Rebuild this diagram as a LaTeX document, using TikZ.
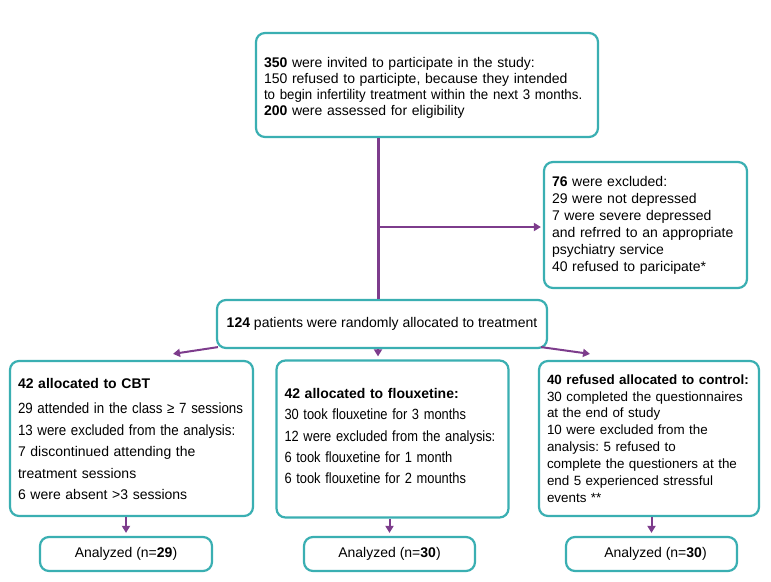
\documentclass[tikz,border=0pt]{standalone}
\usepackage{fontspec}
\setmainfont{Liberation Sans}
\newfontfamily\narrowfont{Liberation Sans}[FakeStretch=0.9]
\newfontfamily\slimfont{Liberation Sans}[FakeStretch=0.87]
\newfontfamily\semifont{Liberation Sans}[FakeStretch=0.95]
\usetikzlibrary{arrows.meta,calc}
\definecolor{tealline}{RGB}{58,175,178}
\definecolor{purparr}{RGB}{125,60,140}
\frenchspacing
\tikzset{
  box/.style   = {rectangle, draw=tealline, rounded corners=9pt,
                  line width=2.2pt, inner xsep=8pt, inner ysep=0pt,
                  align=left, fill=white,
                  font=\fontsize{14}{16}\selectfont},
  res/.style   = {box, align=center, minimum width=171pt,
                  minimum height=34pt},
  arr/.style   = {-{Triangle[length=7pt,width=8pt]}, draw=purparr,
                  line width=2pt},
  trunk/.style = {draw=purparr, line width=3pt}
}
\newcommand{\nline}[1]{{\narrowfont\fontsize{14.8}{16}\selectfont #1}}
\newcommand{\sline}[1]{{\slimfont\fontsize{14.8}{16}\selectfont #1}}

\begin{document}
\begin{tikzpicture}[x=1pt,y=-1pt]
  \useasboundingbox (0,0) rectangle (771,581);
  % enrolment
  \node[box,text width=326pt,minimum height=104pt] (invit) at (427,85)
    {\rule{0pt}{16pt}\textbf{350} were invited to participate in the study:\\
     150 refused to participte, because they intended\\
     {\semifont to begin infertility treatment within the next 3 months.}\\
     \textbf{200} were assessed for eligibility};
  \node[box,text width=187pt,minimum height=126pt,
        font=\fontsize{14}{17}\selectfont] (excl) at (645.5,225)
    {\textbf{76} were excluded:\\
     29 were not depressed\\
     7 were severe depressed\\
     and refrred to an appropriate\\
     psychiatry service\\
     40 refused to paricipate*};
  \node[box,align=center,minimum width=330pt,minimum height=48pt] (alloc) at (382,324)
    {\textbf{124} patients were randomly allocated to treatment};
  % groups
  \node[box,text width=227pt,minimum height=155pt] (cbt) at (131.5,438.5)
    {\textbf{42 allocated to CBT}\\[9pt]
     \nline{29 attended in the class ≥ 7 sessions}\\[6pt]
     \nline{13 were excluded from the analysis:}\\[5pt]
     7 discontinued attending the\\[6pt]
     treatment sessions\\[5pt]
     6 were absent >3 sessions};
  \node[box,text width=216pt,minimum height=157pt] (flx) at (392.5,439)
    {\textbf{42 allocated to flouxetine:}\\[5pt]
     \sline{30 took flouxetine for 3 months}\\[6pt]
     \sline{12 were excluded from the analysis:}\\[5pt]
     \sline{6 took flouxetine for 1 month}\\[5pt]
     \sline{6 took flouxetine for 2 mounths}\\[-10pt]
     \mbox{}};
  \node[box,text width=204pt,minimum height=155pt,
        font=\fontsize{13.4}{16.9}\selectfont] (ctl) at (649,438.5)
    {\textbf{40 refused allocated to control:}\\
     30 completed the questionnaires\\
     at the end of study\\
     10 were excluded from the\\
     analysis: 5 refused to\\
     complete the questioners at the\\
     end 5 experienced stressful\\
     events **};
  % analysis
  \node[res,minimum width=172pt] (an1) at (126,554) {Analyzed (n=\textbf{29})};
  \node[res] (an2) at (389.5,554) {Analyzed (n=\textbf{30})};
  \node[res] (an3) at (651.5,554) {\hspace{8pt}Analyzed (n=\textbf{30})};

  \coordinate (split) at (378,227);
  \draw[trunk] (invit.south -| split) -- (alloc.north -| split);
  \draw[arr,line width=2.4pt,shorten >=2pt] (split) -- (excl.west |- split);
  \draw[arr] ($(alloc.south west)+(2,-2)$) -- ($(cbt.north)+(41.5,-6)$);
  \draw[arr] (alloc.south -| split) -- ($(flx.north -| split)+(0,-3)$);
  \draw[arr] ($(alloc.south east)+(-7,-2)$) -- ($(ctl.north)+(-59,-6)$);
  \draw[arr] (cbt.south -| an1.north) -- ($(an1.north)+(0,-3)$);
  \draw[arr] (flx.south -| an2.north) -- ($(an2.north)+(0,-3)$);
  \draw[arr] (ctl.south -| an3.north) -- ($(an3.north)+(0,-3)$);
\end{tikzpicture}
\end{document}
